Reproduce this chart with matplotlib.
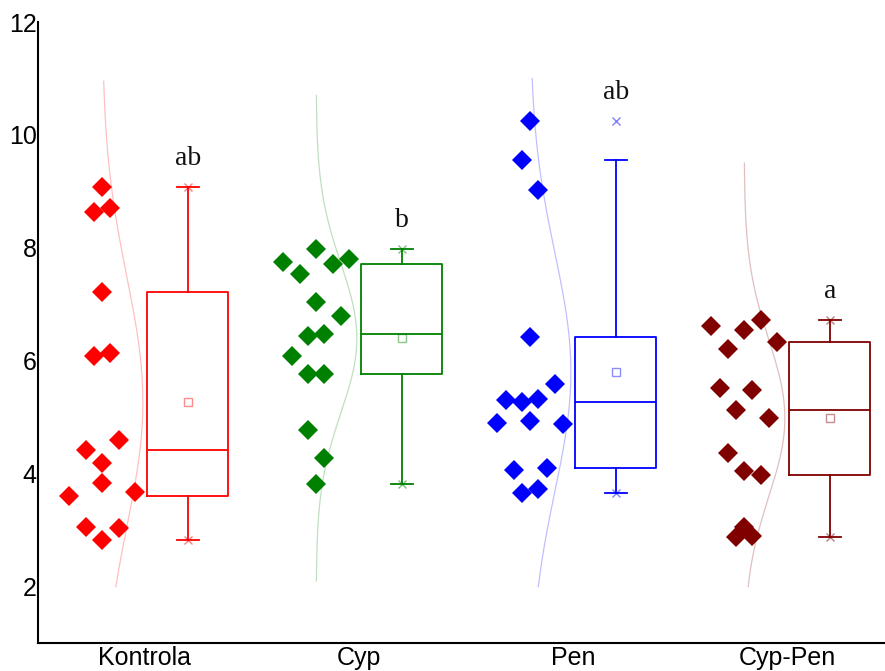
import numpy as np
import matplotlib
matplotlib.use("Agg")
import matplotlib.pyplot as plt

# measured values per treatment (n = 15 each)
groups = ["Kontrola", "Cyp", "Pen", "Cyp-Pen"]
kontrola = [9.08, 8.64, 8.71, 7.21, 6.08, 6.14, 4.59, 4.41, 4.19, 3.83, 3.60, 3.68, 3.05, 3.03, 2.82]
cyp = [7.98, 7.74, 7.71, 7.80, 7.53, 7.04, 6.79, 6.44, 6.47, 6.08, 5.76, 5.76, 4.78, 4.28, 3.81]
pen = [10.25, 9.55, 9.02, 6.42, 5.58, 5.30, 5.27, 5.32, 4.90, 4.93, 4.88, 4.06, 4.10, 3.66, 3.73]
cyp_pen = [6.62, 6.54, 6.73, 6.20, 6.34, 5.52, 5.49, 5.13, 4.98, 4.37, 4.04, 3.98, 3.05, 2.87, 2.89]

# horizontal slot of each point in the binned scatter
slots_kontrola = [0, -1, 1, 0, -1, 1, 2, -2, 0, 0, -4, 4, -2, 2, 0]
slots_cyp = [0, -4, 2, 4, -2, 0, 3, -1, 1, -3, -1, 1, -1, 1, 0]
slots_pen = [0, -1, 1, 0, 3, -3, -1, 1, -4, 0, 4, -2, 2, -1, 1]
slots_cyp_pen = [-4, 0, 2, -2, 4, -3, 1, -1, 3, -2, 0, 2, 0, -1, 1]

# value range covered by each normal curve
curve_lo = [2.0, 2.1, 2.0, 2.0]
curve_hi = [10.95, 10.7, 11.0, 9.5]

letters = ["ab", "b", "ab", "a"]
colors = ["#FF0000", "#008000", "#0000FF", "#800000"]

data = [kontrola, cyp, pen, cyp_pen]
slots = [slots_kontrola, slots_cyp, slots_pen, slots_cyp_pen]

fig = plt.figure(figsize=(8.85, 6.71), dpi=100)
ax = fig.add_axes([38 / 885, 28 / 671, 856 / 885, 621 / 671])

for i, (vals, sl, col) in enumerate(zip(data, slots, colors)):
    pos = i + 1
    v = np.array(vals)
    xs = pos - 0.2 + np.array(sl) * 0.0383
    ax.plot(xs, v, linestyle="none", marker="D", markersize=10,
            color=col, markeredgewidth=0, zorder=3)

    # normal curve from mean and sd
    mu, sd = v.mean(), v.std(ddof=1)
    yy = np.linspace(curve_lo[i], curve_hi[i], 200)
    dens = np.exp(-0.5 * ((yy - mu) / sd) ** 2)
    ax.plot(pos - 0.2 + 0.19 * dens, yy, color=col, alpha=0.25, lw=0.9)

    # box stats, Origin-style quartiles
    q1, med, q3 = np.percentile(v, [25, 50, 75], method="weibull")
    iqr = q3 - q1
    lo = v[v >= q1 - 1.5 * iqr].min()
    hi = v[v <= q3 + 1.5 * iqr].max()
    st = dict(med=med, q1=q1, q3=q3, whislo=lo, whishi=hi, fliers=[], mean=mu)
    lp = dict(color=col, linewidth=1.3)
    ax.bxp([st], positions=[pos + 0.2], widths=0.38, capwidths=0.1,
           showfliers=False, showmeans=False,
           boxprops=lp, whiskerprops=lp, capprops=lp, medianprops=lp)

    ax.plot(pos + 0.2, mu, marker="s", markersize=5.5, mfc="none",
            mec=col, mew=1.0, alpha=0.45)
    ax.plot([pos + 0.2, pos + 0.2], [v.min(), v.max()], linestyle="none",
            marker="x", markersize=6, color=col, alpha=0.5, mew=1.0)

    ax.text(pos + 0.2, v.max() + 0.38, letters[i], ha="center", va="baseline",
            fontsize=20, family="Liberation Serif", color="#111111")

ax.set_xlim(0.5, 4.5)
ax.set_ylim(1, 12)
ax.set_yticks([2, 4, 6, 8, 10, 12])
ax.set_xticks([1, 2, 3, 4])
ax.set_xticklabels(groups)
ax.tick_params(length=0, labelsize=18, pad=1)
ax.tick_params(axis="x", pad=2)
for lab in ax.get_xticklabels() + ax.get_yticklabels():
    lab.set_family("Liberation Sans")
for s in ["top", "right"]:
    ax.spines[s].set_visible(False)
for s in ["left", "bottom"]:
    ax.spines[s].set_linewidth(1.5)

fig.savefig("out.png", dpi=100)
